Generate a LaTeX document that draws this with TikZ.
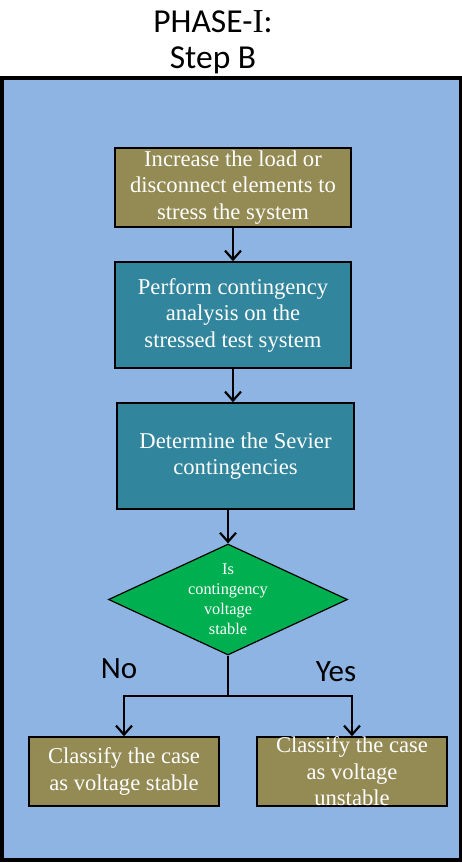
\documentclass[tikz,border=0pt]{standalone}
\usepackage{fontspec}
\setmainfont{Liberation Serif}
\newfontfamily\headfont{Carlito}
\usetikzlibrary{shapes.geometric,arrows.meta}

\definecolor{panelblue}{HTML}{8EB4E3}
\definecolor{olivebox}{HTML}{948A54}
\definecolor{tealbox}{HTML}{31859C}
\definecolor{decgreen}{HTML}{00B050}

\tikzset{
  frame/.style={draw=black, line width=4pt, fill=panelblue},
  stepbox/.style={draw=black, line width=1.5pt, rectangle, inner sep=0pt,
    text=white, align=center, font=\fontsize{22.6}{26.5}\selectfont},
  olive/.style={stepbox, fill=olivebox},
  teal/.style={stepbox, fill=tealbox},
  decision/.style={diamond, draw=black, line width=1.2pt, fill=decgreen, inner sep=0pt,
    minimum width=239pt, minimum height=111pt},
  dectext/.style={text=white, align=center, inner sep=0pt,
    font=\fontsize{16.3}{20}\selectfont},
  boxtext/.style={text=white, align=center, inner sep=0pt,
    font=\fontsize{22.6}{26.5}\selectfont},
  heading/.style={align=center, inner sep=0pt, font=\headfont\fontsize{33.5}{39}\selectfont},
  branch/.style={inner sep=0pt, font=\headfont\fontsize{31}{36}\selectfont},
  arr/.style={draw=black, line width=2.2pt, -{Straight Barb[length=9pt,width=16pt]}},
  link/.style={draw=black, line width=2.2pt}
}

\begin{document}
\begin{tikzpicture}[x=1pt,y=-1pt]
\useasboundingbox (0,0) rectangle (462,863);

% title
\node[heading] (title1) at (213,22) {PHASE-{\rmfamily I}:};
\node[heading] (title2) at (213,60) {Step B};

% panel
\draw[frame] (2,77.5) rectangle (461,859.5);

% process steps
\node[olive, minimum width=236pt, minimum height=79pt] (s1) at (233,187.5)
  {Increase the load or\\disconnect elements to\\stress the system};
\node[teal, minimum width=236pt, minimum height=106pt] (s2) at (233,315)
  {Perform contingency\\analysis on the\\stressed test system};
\node[teal, minimum width=237pt, minimum height=106pt] (s3) at (235.5,456)
  {Determine the Sevier\\contingencies};

% decision
\node[decision] (dec) at (228,599.5) {};
\node[dectext] (dect) at (dec.center) {Is\\contingency\\voltage\\stable};

% outcomes
\node[olive, minimum width=190pt, minimum height=69pt] (lbox) at (124,771.5)
  {Classify the case\\as voltage stable};
\node[olive, minimum width=190pt, minimum height=69pt] (rbox) at (352,771.5) {};
\node[boxtext] (rtext) at (rbox.center) {Classify the case\\as voltage\\unstable};

% connectors
\draw[arr] (s1.south) -- (s1.south |- s2.north);
\draw[arr] (s2.south) -- (s2.south |- s3.north);
\draw[arr] (dec.north |- s3.south) -- (dec.north);
\coordinate (split) at (228,696);
\draw[link] (dec.south) -- (split);
\draw[arr] (split) -| (lbox.north);
\draw[arr] (split) -| (rbox.north);

% branch labels
\node[branch] (no) at (119,669) {No};
\node[branch] (yes) at (336,672) {Yes};
\end{tikzpicture}
\end{document}
